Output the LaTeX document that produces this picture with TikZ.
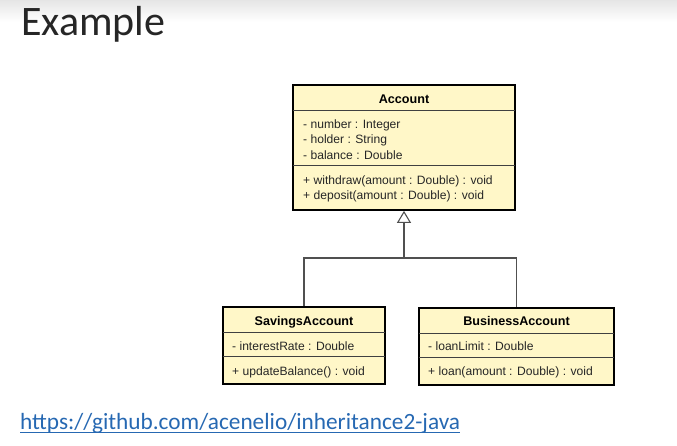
\documentclass[tikz,border=0pt]{standalone}
\usepackage{fontspec}
\setmainfont{Liberation Sans}
\newfontfamily\slidefont{Carlito}
\usetikzlibrary{arrows.meta}
\definecolor{umlfill}{RGB}{255,247,200}
\definecolor{linkblue}{RGB}{38,104,178}
\definecolor{conngrey}{RGB}{80,80,80}
\tikzset{
  classbox/.style={draw=black, line width=1.7pt, fill=umlfill, inner sep=0pt},
  sepline/.style={draw=black!75, line width=0.8pt},
  member/.style={anchor=base west, inner sep=0pt, font=\fontsize{12.1}{14}\selectfont, text=black!85},
  classname/.style={anchor=base, inner sep=0pt, font=\fontsize{12.6}{14}\selectfont\bfseries},
  conn/.style={draw=conngrey, line width=1.3pt},
  genarrow/.style={-{Triangle[open, width=14pt, length=12pt, line width=1.1pt]}}
}
\begin{document}
\begin{tikzpicture}[x=1pt, y=-1pt]
\useasboundingbox (0,0) rectangle (677,445);
\shade[top color=black!10, bottom color=white] (0,0) rectangle (677,22);
% title
\node[anchor=base west, inner sep=0pt, font=\slidefont\fontsize{42}{48}\selectfont, text=black!85] (title) at (21,35) {Example};
% Account
\node[classbox, minimum width=222pt, minimum height=125pt] (acc) at (404,147.5) {};
\draw[sepline] (293,110) -- (515,110);
\draw[sepline] (293,165) -- (515,165);
\node[classname] (accname) at (404,103) {Account};
\node[member] (a1) at (303,128) {- number : Integer};
\node[member] (a2) at (303,143) {- holder : String};
\node[member] (a3) at (303,159) {- balance : Double};
\node[member] (a4) at (303,184) {+ withdraw(amount : Double) : void};
\node[member] (a5) at (303,199) {+ deposit(amount : Double) : void};
% SavingsAccount
\node[classbox, minimum width=162pt, minimum height=77pt] (sav) at (304,345.5) {};
\draw[sepline] (223,332) -- (385,332);
\draw[sepline] (223,356) -- (385,356);
\node[classname] (savname) at (304,325) {SavingsAccount};
\node[member] (s1) at (232,350) {- interestRate : Double};
\node[member] (s2) at (232,375) {+ updateBalance() : void};
% BusinessAccount
\node[classbox, minimum width=195pt, minimum height=77pt] (bus) at (516.5,346.5) {};
\draw[sepline] (419,333) -- (614,333);
\draw[sepline] (419,357) -- (614,357);
\node[classname] (busname) at (516.5,325) {BusinessAccount};
\node[member] (b1) at (428,350) {- loanLimit : Double};
\node[member] (b2) at (428,375) {+ loan(amount : Double) : void};
% connectors
\coordinate (j) at (404,258);
\draw[conn] (sav.north) |- (j) -| (bus.north);
\draw[conn, genarrow] (j) -- (acc.south);
% link
\node[anchor=base west, inner sep=0pt, font=\slidefont\fontsize{23.3}{28}\selectfont, text=linkblue] (url) at (20,429) {https://github.com/acenelio/inheritance2-java};
\draw[linkblue, line width=1pt] ([yshift=-3.5pt]url.base west) -- ([yshift=-3.5pt]url.base east);
\end{tikzpicture}
\end{document}
